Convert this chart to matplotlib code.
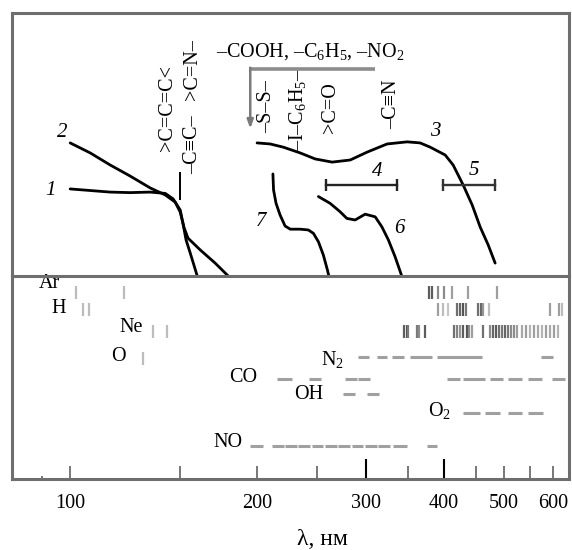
import matplotlib
matplotlib.use('Agg')
import matplotlib.pyplot as plt
from matplotlib.ticker import FixedLocator, FuncFormatter

plt.rcParams['font.family'] = ['Liberation Serif', 'DejaVu Serif']
plt.rcParams['mathtext.fontset'] = 'custom'
plt.rcParams['mathtext.rm'] = 'Liberation Serif'
plt.rcParams['mathtext.it'] = 'Liberation Serif:italic'
plt.rcParams['mathtext.default'] = 'regular'

# --- absorption curves: wavelength (nm) vs relative absorption ---
curve1_nm = [100, 107.7, 116.0, 124.9, 134.5, 142.3, 146.5, 150.4, 152.1, 153.7, 156.1, 160.2]
curve1_abs = [0.331, 0.325, 0.319, 0.317, 0.319, 0.314, 0.293, 0.251, 0.194, 0.137, 0.087, 0.0]

curve2_nm = [100, 107.7, 116.0, 124.9, 134.5, 142.3, 147.6, 150.4, 152.6, 154.8, 162.0, 171.2, 179.7]
curve2_abs = [0.506, 0.468, 0.422, 0.380, 0.335, 0.308, 0.281, 0.243, 0.183, 0.144, 0.099, 0.049, 0.0]

curve3_nm = [200, 209.9, 220.3, 234.6, 248.1, 264.2, 282.5, 300.8, 323.9, 348.9,
             366.1, 379.9, 401.8, 413.8, 429.5, 444.1, 457.5, 471.3, 483.6]
curve3_abs = [0.506, 0.502, 0.490, 0.468, 0.445, 0.433, 0.441, 0.471, 0.502, 0.510,
              0.506, 0.490, 0.460, 0.422, 0.346, 0.270, 0.186, 0.118, 0.049]

curve6_nm = [251.1, 262.3, 272.2, 279.0, 287.7, 298.6, 309.9, 317.7, 325.5, 333.7, 342.0]
curve6_abs = [0.302, 0.276, 0.244, 0.219, 0.213, 0.235, 0.225, 0.187, 0.137, 0.073, 0.0]

curve7_nm = [212.1, 212.6, 214.6, 217.8, 221.9, 226.2, 234.6, 241.9, 246.5, 251.1, 255.7, 259.6, 261.0]
curve7_abs = [0.388, 0.327, 0.276, 0.232, 0.190, 0.178, 0.178, 0.175, 0.162, 0.130, 0.080, 0.023, 0.0]

# transparency windows 4 and 5
band4_nm = [258.4, 336.2]
band5_nm = [398.7, 483.6]
band_level = 0.347

curve_labels = ['1', '2', '3', '4', '5', '6', '7']
curve_label_nm = [92.9, 97.1, 387.0, 312.8, 446.5, 338.7, 203.0]
curve_label_abs = [0.325, 0.546, 0.549, 0.397, 0.401, 0.181, 0.209]

# chromophore groups
group_names = ['>C=C=C<', '>C=N–', '–C≡C–', '–S–S–', '–I–C$_6$H$_5$–', '>C=O', '–C≡N']
group_nm = [143.3, 157.2, 157.2, 207.0, 232.1, 262.3, 330.0]
group_abs = [0.639, 0.783, 0.498, 0.643, 0.631, 0.639, 0.654]

# --- emission lines (atoms) ---
line_rows = ['Ar', 'H', 'Ne', 'O']
line_nm = {
    'Ar': [102.2, 122.2, 379.0, 382.3, 391.8, 400.4, 411.8, 436.9, 486.6],
    'H': [104.9, 107.3, 391.8, 399.1, 406.6, 419.5, 424.6, 429.9, 434.2, 454.4,
          459.0, 463.0, 473.4, 592.9, 613.9, 619.4],
    'Ne': [136.0, 143.3, 345.0, 348.5, 350.6, 361.7, 364.8, 373.0, 415.7, 419.5,
           424.6, 429.9, 435.3, 439.0, 444.4, 463.0, 474.6, 480.0, 485.3, 490.7,
           496.2, 501.7, 507.4, 513.0, 518.8, 524.6, 534.4, 542.4, 550.5, 558.7,
           567.1, 575.5, 584.1, 592.9, 601.7, 610.7],
    'O': [131.1],
}
line_strength = {
    'Ar': [0.35, 0.35, 0.85, 0.85, 0.6, 0.6, 0.5, 0.5, 0.5],
    'H': [0.35, 0.35, 0.5, 0.35, 0.3, 0.75, 0.8, 0.9, 0.7, 0.75,
          0.8, 0.55, 0.35, 0.5, 0.5, 0.35],
    'Ne': [0.35, 0.35, 0.85, 0.9, 0.7, 0.7, 0.6, 0.85, 0.75, 0.65,
           0.55, 0.85, 0.9, 0.6, 0.5, 0.75, 0.6, 0.8, 0.85, 0.75,
           0.7, 0.8, 0.7, 0.6, 0.6, 0.5, 0.45, 0.5, 0.4, 0.5,
           0.45, 0.4, 0.5, 0.45, 0.5, 0.4],
    'O': [0.35],
}

# --- molecular band systems (start, end) in nm ---
band_rows = ['N$_2$', 'CO', 'OH', 'O$_2$', 'NO']
band_segments = {
    'N$_2$': [(290.9, 303.1), (312.2, 324.0), (330.0, 345.0), (352.8, 382.8),
              (389.9, 460.7), (573.4, 599.5)],
    'CO': [(215.2, 227.5), (242.8, 253.3), (277.3, 289.9), (290.9, 304.2),
           (404.2, 424.6), (429.9, 465.9), (474.6, 498.5), (507.8, 533.9),
           (547.0, 574.8), (596.8, 626.8)],
    'OH': [(275.5, 287.7), (300.5, 314.8)],
    'O$_2$': [(429.9, 457.3), (465.9, 492.6), (507.8, 533.9), (547.0, 578.3)],
    'NO': [(195.0, 204.8), (211.3, 220.6), (221.9, 231.8), (233.2, 243.5),
           (245.0, 255.7), (257.4, 268.8), (270.4, 282.4), (284.2, 296.7),
           (298.6, 311.8), (313.6, 327.6), (331.6, 348.5), (375.3, 389.5)],
}

row_level = {'Ar': 0.921, 'H': 0.837, 'Ne': 0.729, 'O': 0.596,
             'N$_2$': 0.601, 'CO': 0.493, 'OH': 0.419, 'O$_2$': 0.325, 'NO': 0.163}
row_label_nm = {'Ar': 92.5, 'H': 96.0, 'Ne': 125.2, 'O': 119.7,
                'N$_2$': 264.2, 'CO': 190.3, 'OH': 242.6, 'O$_2$': 392.9, 'NO': 179.7}
row_label_pos = {'Ar': 0.961, 'H': 0.842, 'Ne': 0.744, 'O': 0.601,
                 'N$_2$': 0.590, 'CO': 0.502, 'OH': 0.414, 'O$_2$': 0.335, 'NO': 0.182}

tick_minor = [100, 150, 200, 250, 350, 450, 500, 550, 600]
tick_major = [300, 400]
tick_labels = [100, 200, 300, 400, 500, 600]

FS = 14.5
FRAME = '#6e6e6e'

fig = plt.figure(figsize=(5.72, 5.5), dpi=100)
ax_bot = fig.add_axes([0.021, 0.1291, 0.9738, 0.3691])
ax_top = fig.add_axes([0.021, 0.4982, 0.9738, 0.4782], sharex=ax_bot)
ax_top.patch.set_visible(False)

for ax in (ax_top, ax_bot):
    ax.set_xscale('log')
    ax.set_ylim(0, 1)
    for s in ax.spines.values():
        s.set_color(FRAME)
        s.set_linewidth(2.2)
ax_bot.spines['top'].set_visible(False)
ax_top.set_xlim(80.6, 636)

ax_top.tick_params(which='both', bottom=False, labelbottom=False, left=False, labelleft=False)
ax_bot.tick_params(which='both', left=False, labelleft=False)

# upper panel: absorption curves
for xs, ys in [(curve1_nm, curve1_abs), (curve2_nm, curve2_abs), (curve3_nm, curve3_abs),
               (curve6_nm, curve6_abs), (curve7_nm, curve7_abs)]:
    ax_top.plot(xs, ys, color='black', lw=2.0, solid_capstyle='round', solid_joinstyle='round')

ax_top.plot(band4_nm, [band_level] * 2, color='#222222', lw=1.7, marker='|', ms=8, mew=1.7)
ax_top.plot(band5_nm, [band_level] * 2, color='#333333', lw=1.7, marker='|', ms=8, mew=1.7)
ax_top.plot([150, 150], [0.293, 0.392], color='black', lw=1.4)

for lab, x, y in zip(curve_labels, curve_label_nm, curve_label_abs):
    ax_top.text(x, y, lab, fontsize=15, style='italic', ha='center', va='center')

for name, x, y in zip(group_names, group_nm, group_abs):
    ax_top.text(x, y, name, fontsize=FS, rotation=90, ha='center', va='center')

ax_top.text(171.8, 0.852, '–COOH, –C$_6$H$_5$, –NO$_2$', fontsize=FS, ha='left', va='center')
ax_top.plot([195.0, 309.9], [0.787, 0.787], color='#8c8c8c', lw=2.6, solid_capstyle='butt')
ax_top.annotate('', xy=(195.0, 0.560), xytext=(195.0, 0.792),
                arrowprops=dict(arrowstyle='-|>,head_length=0.5,head_width=0.18',
                                color='#7a7a7a', lw=1.8, shrinkA=0, shrinkB=0))

# lower panel: atomic lines
for row in line_rows:
    y = row_level[row]
    for x, s in zip(line_nm[row], line_strength[row]):
        ax_bot.vlines(x, y - 0.032, y + 0.032, color=str(round(1 - s * 0.75, 3)), lw=1.6)

# lower panel: molecular bands
for row in band_rows:
    y = row_level[row]
    for x0, x1 in band_segments[row]:
        ax_bot.hlines(y, x0, x1, color='#a0a0a0', lw=2.2)

for row in line_rows + band_rows:
    ax_bot.text(row_label_nm[row], row_label_pos[row], row, fontsize=FS, ha='center', va='center')

# wavelength axis
fmt = FuncFormatter(lambda v, pos: f'{v:.0f}' if round(v) in tick_labels else '')
ax_bot.xaxis.set_major_locator(FixedLocator(tick_major))
ax_bot.xaxis.set_minor_locator(FixedLocator(tick_minor))
ax_bot.xaxis.set_major_formatter(fmt)
ax_bot.xaxis.set_minor_formatter(fmt)
ax_bot.tick_params(which='major', direction='in', length=14.5, width=1.5, color='black',
                   pad=11, labelsize=FS)
ax_bot.tick_params(which='minor', direction='in', length=9.5, width=1.4, color='#777777',
                   pad=11, labelsize=FS)
ax_bot.vlines(90, 0, 0.015, color='#777777', lw=1.4)

ax_bot.set_xlabel('λ, нм', fontsize=17)
ax_bot.xaxis.set_label_coords(0.558, -0.245)

fig.savefig('out.png', dpi=100)
